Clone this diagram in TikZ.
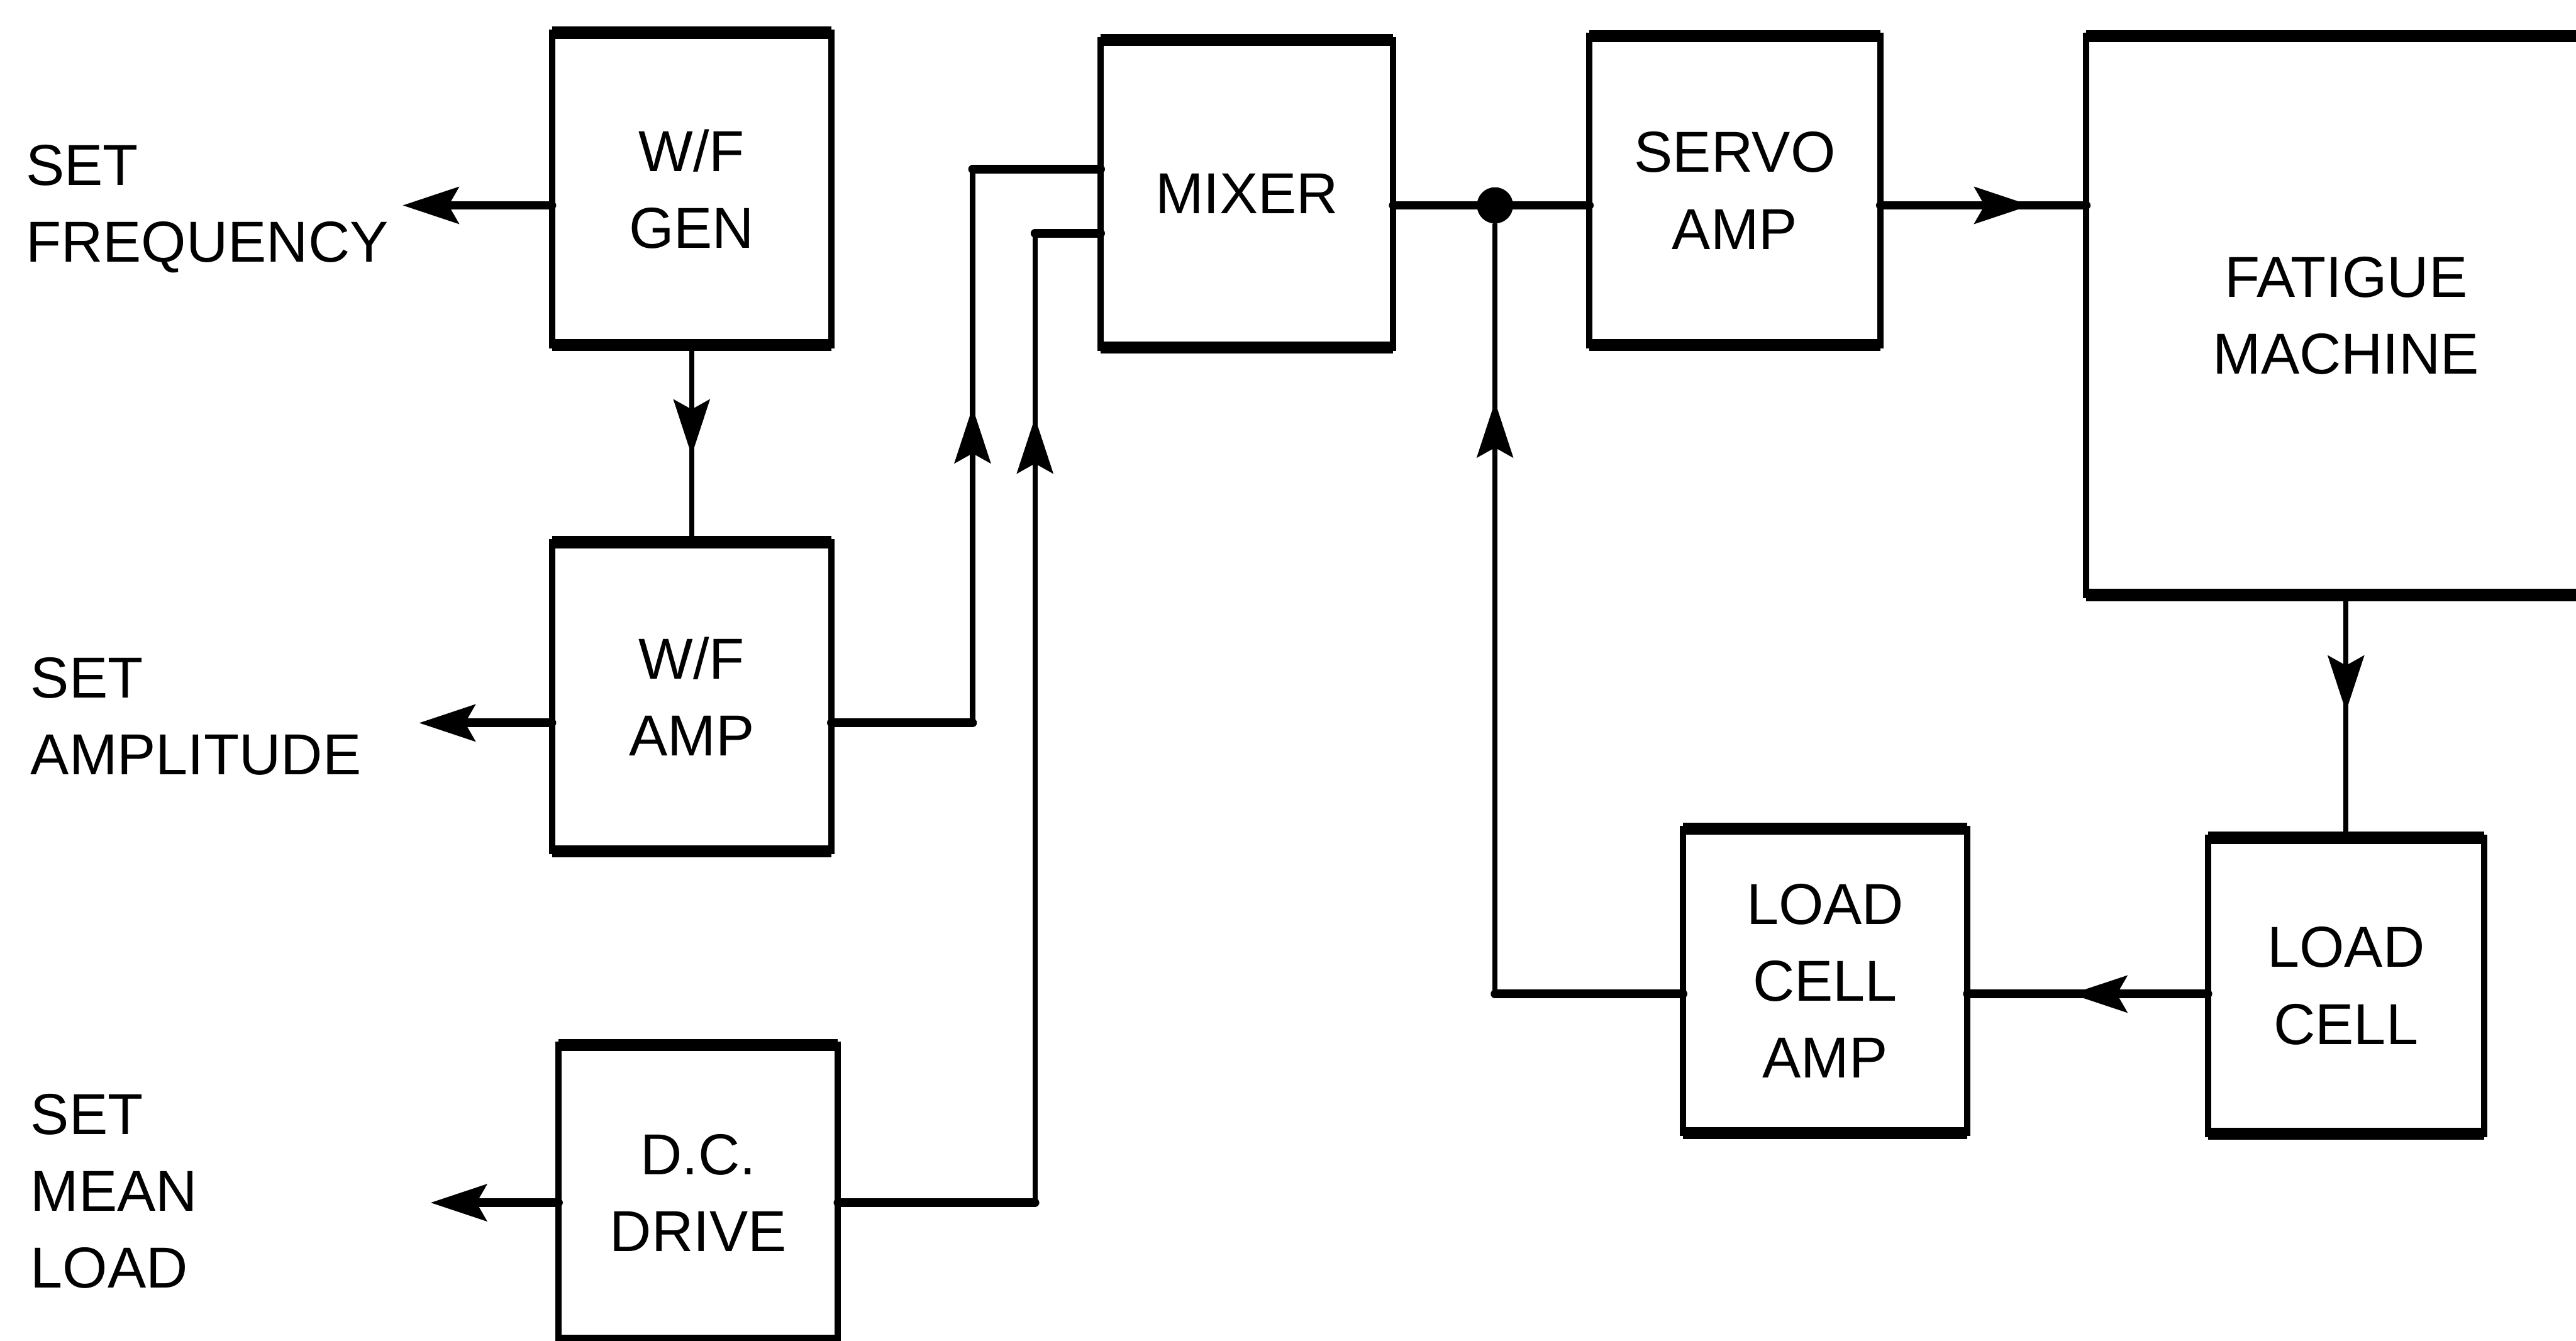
\documentclass[tikz,border=0pt]{standalone}
\usepackage{fontspec}
\setmainfont{Liberation Sans}
\usetikzlibrary{arrows.meta,decorations.markings}

\tikzset{
  box/.style={draw, line width=1.1pt, inner sep=0pt, outer sep=0pt, align=center,
    append after command={
      (\tikzlastnode.north west) edge[line width=2.1pt] (\tikzlastnode.north east)
      (\tikzlastnode.south west) edge[line width=2.1pt] (\tikzlastnode.south east)}},
  setlabel/.style={anchor=west, align=left, inner sep=0pt},
  hwire/.style={line width=1.5pt, line cap=round},
  vwire/.style={line width=0.9pt, line cap=round},
  midarrow/.style={postaction={decorate},
    decoration={markings, mark=at position #1 with {\arrow{>}}}},
  dot/.style={circle, fill, inner sep=0pt, minimum size=0.22cm}
}

\begin{document}
\begin{tikzpicture}[x=0.01cm, y=-0.01cm,
    >={Stealth[length=3.4mm, width=2.2mm, inset=0.6mm]},
    every node/.style={font=\fontsize{10}{13.3}\selectfont}]
        \useasboundingbox (0,0) rectangle (1568,816);

        % Blocks
        \node[box, minimum width=1.7cm, minimum height=1.9cm] (gen) at (421,115) {W/F\\GEN};
        \node[box, minimum width=1.7cm, minimum height=1.88cm] (wfamp) at (421,424) {W/F\\AMP};
        \node[box, minimum width=1.7cm, minimum height=1.8cm] (dcdrive) at (425,726) {D.C.\\DRIVE};
        \node[box, minimum width=1.78cm, minimum height=1.87cm] (mixer) at (759,118) {MIXER};
        \node[box, minimum width=1.77cm, minimum height=1.88cm] (servo) at (1056,116) {SERVO\\AMP};
        \node[box, minimum width=3.16cm, minimum height=3.4cm] (fatigue) at (1428,192) {FATIGUE\\MACHINE};
        \node[box, minimum width=1.73cm, minimum height=1.85cm] (lcamp) at (1111,597) {LOAD\\CELL\\AMP};
        \node[box, minimum width=1.68cm, minimum height=1.8cm] (loadcell) at (1428,600) {LOAD\\CELL};
        \node[dot] (jn) at (910,125) {};

        % Settings
        \node[setlabel] (setfreq) at (15,127) {SET\\FREQUENCY};
        \node[setlabel] (setampl) at (18,436) {SET\\AMPLITUDE};
        \node[setlabel] (setmean) at (18,725) {SET\\MEAN\\LOAD};
        \coordinate (freq) at (245,125);
        \coordinate (ampl) at (255,440);
        \coordinate (mean) at (262,732);
        \draw[hwire,->] (gen.west |- freq) -- (freq);
        \draw[hwire,->] (wfamp.west |- ampl) -- (ampl);
        \draw[hwire,->] (dcdrive.west |- mean) -- (mean);

        % Waveform path
        \draw[vwire, midarrow=0.56] (gen.south) -- (wfamp.north);
        \coordinate (a1) at (592,440);
        \coordinate (a2) at (592,103);
        \draw[hwire] (wfamp.east |- a1) -- (a1);
        \draw[vwire, midarrow=0.57] (a1) -- (a2);
        \draw[hwire] (a2) -- (mixer.west |- a2);

        % Mean load path
        \coordinate (d1) at (630,732);
        \coordinate (d2) at (630,142);
        \draw[hwire] (dcdrive.east |- d1) -- (d1);
        \draw[vwire, midarrow=0.81] (d1) -- (d2);
        \draw[hwire] (d2) -- (mixer.west |- d2);

        % Forward path
        \draw[hwire] (mixer.east |- jn) -- (servo.west |- jn);
        \draw[hwire, midarrow=0.73] (servo.east |- jn) -- (fatigue.west |- jn);
        \draw[vwire, midarrow=0.48] (fatigue.south -| loadcell.north) -- (loadcell.north);

        % Feedback
        \coordinate (fb) at (910,605);
        \draw[hwire, midarrow=0.57] (loadcell.west |- fb) -- (lcamp.east |- fb);
        \draw[hwire] (lcamp.west |- fb) -- (fb);
        \draw[vwire, midarrow=0.77] (fb) -- (jn);

    \end{tikzpicture}
\end{document}
